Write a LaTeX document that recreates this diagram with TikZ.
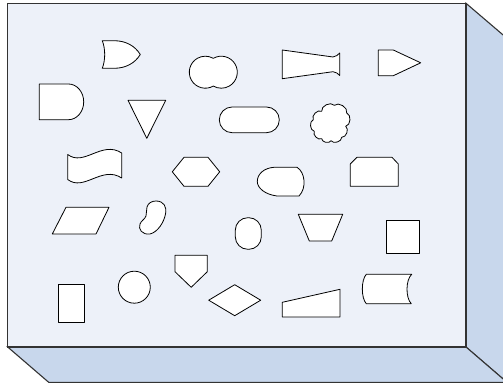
\documentclass[tikz,border=0pt]{standalone}
\definecolor{frontc}{HTML}{EDF1F9}
\definecolor{sidec}{HTML}{C8D7EC}
\definecolor{edgec}{HTML}{333333}
\begin{document}
\begin{tikzpicture}[x=1pt,y=-1pt,
  shp/.style={draw=black,fill=white,line width=0.8pt,line join=round},
  boxs/.style={draw=edgec,line width=1.1pt,line join=miter}]
\useasboundingbox (0,0) rectangle (503,385);
\begin{scope}
\clip (0,0) rectangle (503,385);
% box
\draw[boxs,fill=sidec] (466,3.3) -- (507,38.3) -- (507,382.3) -- (466,347) -- cycle;
\draw[boxs,fill=sidec] (7.7,347) -- (48.7,382.3) -- (507,382.3) -- (466,347) -- cycle;
\draw[boxs,fill=frontc] (7.7,3.3) rectangle (466,347);
\end{scope}
% OR shape
\draw[shp] (102.3,40.7) -- (114,40.7) .. controls (126,40.7) and (135,46) .. (140.3,54.5)
  .. controls (135,63) and (126,68.3) .. (114,68.3) -- (102.3,68.3)
  .. controls (105.5,60) and (105.5,49) .. (102.3,40.7) -- cycle;
% double circle
\draw[shp] (213.3,86.06) arc[start angle=60,end angle=300,radius=16]
  arc[start angle=240,end angle=480,radius=16] -- cycle;
% fish tail
\draw[shp] (282.3,50) -- (333,57) .. controls (336,56.5) and (338,55) .. (339.7,53)
  -- (339.7,75.5) .. controls (338,73.5) and (336,72) .. (333,71.7) -- (282.3,78.7) -- cycle;
% tag
\draw[shp] (378.3,50) -- (393.3,50) -- (420.7,62.8) -- (393.3,75.7) -- (378.3,75.7) -- cycle;
% D shape
\draw[shp] (39.3,84) -- (68.5,84) arc[start angle=-90,end angle=90,x radius=15.2,y radius=17.85]
  -- (39.3,119.7) -- cycle;
% triangle
\draw[shp] (128,100.3) -- (165.7,100.3) -- (146.8,138.3) -- cycle;
% stadium
\draw[shp,rounded corners=12.8] (219.3,107) rectangle (279.3,132.7);
% cloud
\draw[shp] (334.3,105.3) to[bend left=75] (346.7,113) to[bend left=75] (345.7,126.3)
  to[bend left=75] (341.7,137.3) to[bend left=75] (331,140.7) to[bend left=75] (321.7,138.7)
  to[bend left=75] (314.3,131.3) to[bend left=75] (313.3,119.7) to[bend left=75] (321.7,111.3)
  to[bend left=75] (334.3,105.3) -- cycle;
% wave
\draw[shp] (67.7,154.5) .. controls (84,167) and (102,140) .. (121.7,153)
  -- (121.7,178) .. controls (102,165) and (84,192) .. (67.7,179.5) -- cycle;
% hexagon
\draw[shp] (172.3,171.8) -- (184,157.3) -- (208,157.3) -- (219.7,171.8) -- (208,186.3) -- (184,186.3) -- cycle;
% display
\draw[shp] (274,167.3) -- (297,167.3) .. controls (305,172) and (307,188) .. (299,196)
  -- (277,196) .. controls (265,194.5) and (257.3,188) .. (257.3,181.5)
  .. controls (257.3,174) and (264,168) .. (274,167.3) -- cycle;
% loop limit
\draw[shp] (350.3,186.3) -- (350.3,164) -- (357,157.3) -- (392,157.3) -- (398.3,164) -- (398.3,186.3) -- cycle;
% parallelogram
\draw[shp] (52.3,234) -- (66,207.3) -- (109,207.3) -- (96,234) -- cycle;
% bean
\draw[shp] (156,201) .. controls (164,201) and (167,207) .. (165.5,214)
  .. controls (164,222) and (158,232) .. (150,234)
  .. controls (142,235) and (138,229) .. (140,224)
  .. controls (141,221) and (145,219) .. (146,216)
  .. controls (147,213) and (146,210) .. (147,207)
  .. controls (148,203) and (152,201) .. (156,201) -- cycle;
% oval
\draw[shp,rounded corners=12.5] (235.3,217.7) rectangle (261.3,249.3);
% trapezoid
\draw[shp] (298.3,214.3) -- (342.7,214.3) -- (331.7,241) -- (309.3,241) -- cycle;
% square
\draw[shp] (386.7,220.7) rectangle (419,253);
% rectangle
\draw[shp] (58.3,284) rectangle (84,322.3);
% circle
\draw[shp] (134.3,287.2) circle[radius=16];
% off-page
\draw[shp] (175,255.3) -- (207.3,255.3) -- (207.3,271.7) -- (191.2,287.3) -- (175,271.7) -- cycle;
% diamond
\draw[shp] (208.7,300.2) -- (234.7,284.7) -- (260.7,300.2) -- (234.7,315.7) -- cycle;
% manual input
\draw[shp] (282.3,317) -- (282.3,302.3) -- (340,289.3) -- (340,317) -- cycle;
% stored data
\draw[shp] (366.3,274.3) -- (411.7,274.3) .. controls (405.5,280) and (405.5,298) .. (411.3,303.7)
  -- (366.3,303.7) .. controls (361,298) and (361,280) .. (366.3,274.3) -- cycle;
\end{tikzpicture}
\end{document}
